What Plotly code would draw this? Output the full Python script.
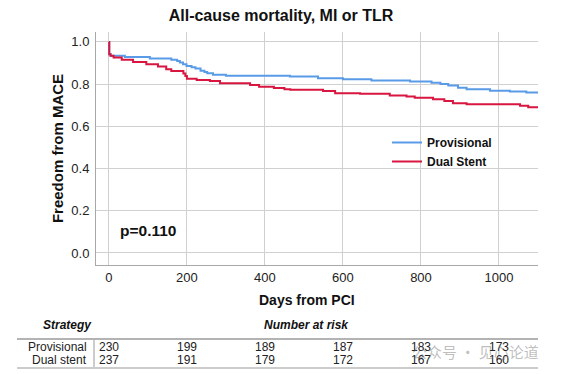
import plotly.graph_objects as go

# Kaplan-Meier step data (days, survival)
prov_days = [0, 1, 5, 41, 105, 160, 175, 182, 190, 199, 212, 222, 235, 245, 252, 267, 300,
             464, 536, 600, 673, 772, 827, 850, 870, 895, 917, 977, 1028, 1070, 1100]
prov_surv = [1.0, 0.942, 0.934, 0.929, 0.921, 0.916, 0.910, 0.902, 0.894, 0.886, 0.880, 0.874,
             0.863, 0.857, 0.852, 0.844, 0.840, 0.836, 0.828, 0.823, 0.817, 0.812, 0.807,
             0.801, 0.793, 0.783, 0.776, 0.769, 0.765, 0.760, 0.760]

dual_days = [0, 1, 4, 12, 33, 62, 96, 126, 147, 160, 191, 196, 200, 225, 259, 285, 362, 385,
             423, 450, 465, 549, 580, 644, 720, 763, 784, 831, 860, 882, 917, 1054, 1075, 1100]
dual_surv = [1.0, 0.942, 0.935, 0.926, 0.915, 0.905, 0.894, 0.883, 0.870, 0.862, 0.850, 0.839,
             0.826, 0.820, 0.815, 0.804, 0.796, 0.788, 0.782, 0.776, 0.773, 0.768, 0.757,
             0.754, 0.746, 0.741, 0.736, 0.728, 0.720, 0.709, 0.705, 0.697, 0.691, 0.691]

risk_days = [0, 200, 400, 600, 800, 1000]
risk_prov = [230, 199, 189, 187, 183, 173]
risk_dual = [237, 191, 179, 172, 167, 160]

x_ticks = [0, 200, 400, 600, 800, 1000]
y_ticks = [0.0, 0.2, 0.4, 0.6, 0.8, 1.0]

BLUE = "#5A9BE8"
RED = "#D8163F"
FONT = "Liberation Sans, Arial, sans-serif"

fig = go.Figure()
fig.add_trace(go.Scatter(x=prov_days, y=prov_surv, mode="lines", line_shape="hv",
                         line=dict(color=BLUE, width=2), name="<b>Provisional</b>"))
fig.add_trace(go.Scatter(x=dual_days, y=dual_surv, mode="lines", line_shape="hv",
                         line=dict(color=RED, width=2), name="<b>Dual Stent</b>"))

L, R, T, B = 96, 28, 32, 109
W, H = 566, 374
pw, ph = W - L - R, H - T - B


def px_x(x):
    return (x - L) / pw


def px_y(y):
    return (H - B - y) / ph


fig.update_layout(
    width=W, height=H,
    margin=dict(l=L, r=R, t=T, b=B, autoexpand=False),
    paper_bgcolor="white", plot_bgcolor="white",
    font=dict(family=FONT, color="#222"),
    title=dict(text="<b>All-cause mortality, MI or TLR</b>", x=281 / W, xanchor="center",
               y=1 - 15 / H, yanchor="middle", font=dict(size=16, color="#111")),
    showlegend=True,
    legend=dict(x=px_x(387), y=px_y(128), xanchor="left", yanchor="top",
                bgcolor="rgba(0,0,0,0)", font=dict(size=12, color="#111", family=FONT),
                itemwidth=30, tracegroupgap=0),
    xaxis=dict(range=[-33, 1100], tickvals=x_ticks, showgrid=True, gridcolor="#d0d0d0",
               gridwidth=1, zeroline=False, showline=True, linecolor="#a8a8a8", linewidth=1,
               ticks="", tickfont=dict(size=13, color="#222"), fixedrange=True,
               automargin=False),
    yaxis=dict(range=[-0.057, 1.047], tickvals=y_ticks, tickformat=".1f", showgrid=True,
               gridcolor="#d0d0d0", gridwidth=1, zeroline=False, showline=True,
               linecolor="#a8a8a8", linewidth=1, ticks="", ticklabelstandoff=3,
               tickfont=dict(size=13, color="#222"), automargin=False,
               title=dict(text="<b>Freedom from MACE</b>", font=dict(size=15, color="#111"),
                          standoff=4), fixedrange=True),
)


def note(text, x, y, xref="paper", xanchor="center", size=12, color="#222", family=FONT):
    return dict(text=text, x=x, y=y, xref=xref, yref="paper", xanchor=xanchor,
                yanchor="middle", showarrow=False,
                font=dict(size=size, color=color, family=family))


ann = []
ann.append(note("<b>Days from PCI</b>", px_x(307), px_y(300), size=14, color="#111"))
ann.append(note("<b>p=0.110</b>", px_x(118), px_y(231), xanchor="left", size=15.5, color="#111"))
ann.append(note("<b><i>Strategy</i></b>", px_x(67), px_y(325), color="#111"))
ann.append(note("<b><i>Number at risk</i></b>", px_x(306), px_y(325), color="#111"))
ann.append(note("Provisional", px_x(89), px_y(347), xanchor="right"))
ann.append(note("Dual stent", px_x(89), px_y(360), xanchor="right"))
for d, a, b in zip(risk_days, risk_prov, risk_dual):
    ann.append(note(str(a), d, px_y(347), xref="x"))
    ann.append(note(str(b), d, px_y(360), xref="x"))
# watermark
ann.append(note("公众号 · 见心论道", px_x(410), px_y(351), xanchor="left", size=15,
                color="rgba(110,110,110,0.45)", family="Noto Sans CJK SC"))
fig.update_layout(annotations=ann)

shapes = [
    dict(type="line", xref="paper", yref="paper", x0=px_x(17), x1=px_x(538), y0=px_y(339),
         y1=px_y(339), line=dict(color="#9a9a9a", width=1.5)),
    dict(type="line", xref="paper", yref="paper", x0=px_x(17), x1=px_x(538), y0=px_y(368),
         y1=px_y(368), line=dict(color="#9a9a9a", width=1.2)),
    dict(type="line", xref="paper", yref="paper", x0=px_x(94), x1=px_x(94), y0=px_y(340),
         y1=px_y(367), line=dict(color="#9a9a9a", width=1)),
]
fig.update_layout(shapes=shapes)

fig.write_html("out.html", config={"displayModeBar": False},
               post_script="document.body.style.margin='0';document.body.style.overflow='hidden';")
